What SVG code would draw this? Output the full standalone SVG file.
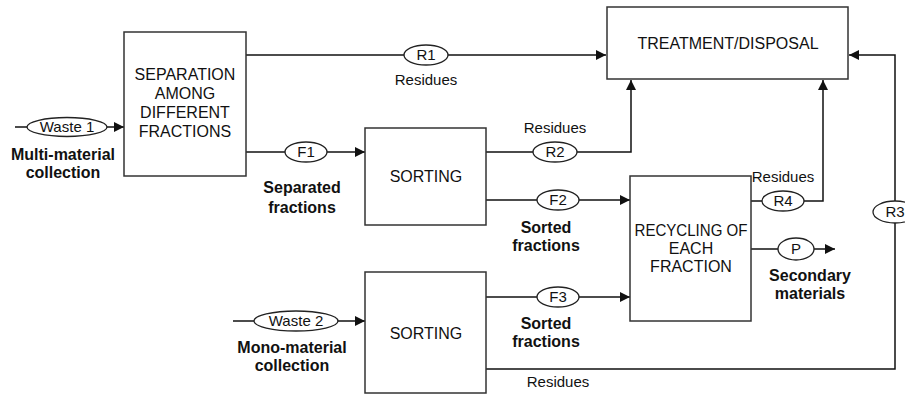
<svg xmlns="http://www.w3.org/2000/svg" width="905" height="395" viewBox="0 0 905 395">
<style>
.box{fill:#fff;stroke:#333;stroke-width:1.5}
.ell{fill:#fff;stroke:#222;stroke-width:1.3}
.ln{fill:none;stroke:#111;stroke-width:1.5}
text{font-family:"Liberation Sans",Arial,sans-serif;fill:#111;text-anchor:middle}
.bt{font-size:16px}
.el{font-size:15px}
.lb{font-size:16px;font-weight:bold}
.rs{font-size:15px}
</style>
<defs>
<marker id="ar" viewBox="0 0 10 10" refX="10" refY="5" markerWidth="10" markerHeight="10" markerUnits="userSpaceOnUse" orient="auto">
<path d="M0,0 L10,5 L0,10 z" fill="#111"/>
</marker>
</defs>
<g id="connectors">
<line class="ln" x1="15" y1="127" x2="124" y2="127" marker-end="url(#ar)"/>
<line class="ln" x1="246" y1="55" x2="606" y2="55" marker-end="url(#ar)"/>
<line class="ln" x1="246" y1="152" x2="365" y2="152" marker-end="url(#ar)"/>
<polyline class="ln" points="486,152 631,152 631,80" marker-end="url(#ar)"/>
<line class="ln" x1="486" y1="200" x2="630" y2="200" marker-end="url(#ar)"/>
<line class="ln" x1="486" y1="297" x2="630" y2="297" marker-end="url(#ar)"/>
<polyline class="ln" points="751,201 823,201 823,80" marker-end="url(#ar)"/>
<line class="ln" x1="751" y1="249" x2="835" y2="249" marker-end="url(#ar)"/>
<line class="ln" x1="233" y1="321" x2="365" y2="321" marker-end="url(#ar)"/>
<polyline class="ln" points="486,369 895,369 895,55 849,55" marker-end="url(#ar)"/>
<ellipse class="ell" cx="67" cy="127" rx="40" ry="9.5"/>
<text class="el" x="67" y="132">Waste 1</text>
<ellipse class="ell" cx="426" cy="55" rx="22" ry="10"/>
<text class="el" x="426" y="60">R1</text>
<ellipse class="ell" cx="306" cy="152" rx="21" ry="10"/>
<text class="el" x="306" y="157">F1</text>
<ellipse class="ell" cx="555" cy="152" rx="22" ry="10"/>
<text class="el" x="555" y="157">R2</text>
<ellipse class="ell" cx="558" cy="200" rx="21" ry="10"/>
<text class="el" x="558" y="205">F2</text>
<ellipse class="ell" cx="558" cy="297" rx="21" ry="10"/>
<text class="el" x="558" y="302">F3</text>
<ellipse class="ell" cx="783" cy="201" rx="21" ry="10"/>
<text class="el" x="783" y="206">R4</text>
<ellipse class="ell" cx="796" cy="249" rx="18" ry="11"/>
<text class="el" x="796" y="254">P</text>
<ellipse class="ell" cx="895" cy="212" rx="22" ry="11"/>
<text class="el" x="895" y="217">R3</text>
<ellipse class="ell" cx="296" cy="321" rx="42" ry="10"/>
<text class="el" x="296" y="326">Waste 2</text>
<text class="rs" x="426" y="85">Residues</text>
<text class="rs" x="555" y="133">Residues</text>
<text class="rs" x="783" y="182">Residues</text>
<text class="rs" x="558" y="387">Residues</text>
<text class="lb" x="63" y="160">Multi-material</text>
<text class="lb" x="63" y="178">collection</text>
<text class="lb" x="302" y="193">Separated</text>
<text class="lb" x="302" y="213">fractions</text>
<text class="lb" x="546" y="233">Sorted</text>
<text class="lb" x="546" y="251">fractions</text>
<text class="lb" x="546" y="329">Sorted</text>
<text class="lb" x="546" y="347">fractions</text>
<text class="lb" x="810" y="281">Secondary</text>
<text class="lb" x="810" y="299">materials</text>
<text class="lb" x="292" y="353">Mono-material</text>
<text class="lb" x="292" y="371">collection</text>
</g>
<g id="separation">
<rect class="box" x="124" y="32" width="122" height="144"/>
<text class="bt" x="185" y="80">SEPARATION</text>
<text class="bt" x="185" y="99">AMONG</text>
<text class="bt" x="185" y="118">DIFFERENT</text>
<text class="bt" x="185" y="137">FRACTIONS</text>
</g>
<g id="treatment">
<rect class="box" x="607" y="7" width="241" height="72"/>
<text class="bt" x="728" y="49">TREATMENT/DISPOSAL</text>
</g>
<g id="sorting1">
<rect class="box" x="365" y="128" width="121" height="97"/>
<text class="bt" x="426" y="182">SORTING</text>
</g>
<g id="recycling">
<rect class="box" x="630" y="176" width="121" height="145"/>
<text class="bt" x="691" y="236" textLength="113" lengthAdjust="spacingAndGlyphs">RECYCLING OF</text>
<text class="bt" x="691" y="254">EACH</text>
<text class="bt" x="691" y="272">FRACTION</text>
</g>
<g id="sorting2">
<rect class="box" x="365" y="272" width="121" height="121"/>
<text class="bt" x="426" y="339">SORTING</text>
</g>
</svg>
